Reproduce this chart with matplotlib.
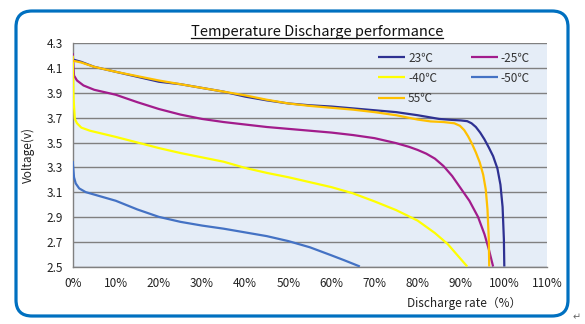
import matplotlib
matplotlib.use("Agg")
import matplotlib.pyplot as plt
from matplotlib.patches import FancyBboxPatch
from matplotlib.lines import Line2D
from matplotlib.transforms import IdentityTransform
from matplotlib.ticker import FuncFormatter

plt.rcParams['font.family'] = ['Noto Sans CJK SC', 'DejaVu Sans']

# ---------------- data ----------------
labels = ['23℃', '-25℃', '-40℃', '-50℃', '55℃']
colors = ['#2E3192', '#A21C8C', '#FFFF00', '#4472C4', '#FFC000']

x_23 = [0, 2, 5, 10, 15, 20, 25, 30, 35, 40, 45, 50, 55, 60, 65, 70, 75, 80, 85, 88, 90,
        91.5, 92.5, 93.5, 94.5, 95.5, 96.5, 97.5, 98.5, 99.2, 99.7, 100, 100.1]
v_23 = [4.17, 4.15, 4.11, 4.07, 4.03, 3.99, 3.97, 3.94, 3.91, 3.87, 3.84, 3.815, 3.80, 3.79,
        3.775, 3.76, 3.745, 3.72, 3.69, 3.682, 3.678, 3.672, 3.655, 3.625, 3.58, 3.525, 3.46,
        3.39, 3.29, 3.16, 2.98, 2.72, 2.5]

x_m25 = [0, 0.3, 1, 2.5, 5, 10, 15, 20, 25, 30, 35, 40, 45, 50, 55, 60, 65, 70, 75, 78, 80,
         82, 84, 86, 88, 90, 92, 94, 95.5, 96.5, 97.5]
v_m25 = [4.22, 4.04, 4.0, 3.96, 3.925, 3.885, 3.825, 3.77, 3.725, 3.69, 3.665, 3.645, 3.625,
         3.61, 3.595, 3.58, 3.56, 3.535, 3.495, 3.465, 3.44, 3.41, 3.37, 3.31, 3.23, 3.13, 3.03,
         2.90, 2.76, 2.64, 2.5]

x_m40 = [0, 0.2, 0.5, 1, 2, 4, 7, 10, 15, 20, 25, 30, 35, 40, 45, 50, 55, 60, 65, 70, 75, 80,
         84, 87, 89, 90.5, 91.5]
v_m40 = [4.20, 3.85, 3.69, 3.655, 3.62, 3.595, 3.57, 3.545, 3.50, 3.455, 3.415, 3.38, 3.345,
         3.295, 3.255, 3.22, 3.18, 3.14, 3.09, 3.025, 2.955, 2.87, 2.77, 2.68, 2.60, 2.54, 2.5]

x_m50 = [0, 0.3, 0.7, 1.5, 3, 5, 10, 15, 20, 25, 30, 35, 40, 45, 50, 55, 60, 63, 66.6]
v_m50 = [3.35, 3.22, 3.17, 3.13, 3.10, 3.08, 3.03, 2.96, 2.90, 2.86, 2.83, 2.805, 2.775, 2.745,
         2.705, 2.655, 2.59, 2.55, 2.5]

x_55 = [0, 2, 5, 10, 15, 20, 25, 30, 35, 40, 45, 50, 55, 60, 65, 70, 75, 80, 83, 86, 88.5,
        89.8, 90.8, 91.7, 92.6, 93.5, 94.4, 95.2, 95.8, 96.2, 96.5, 96.6]
v_55 = [4.16, 4.145, 4.11, 4.07, 4.035, 4.0, 3.97, 3.94, 3.91, 3.88, 3.845, 3.815, 3.795, 3.78,
        3.765, 3.745, 3.72, 3.685, 3.67, 3.665, 3.655, 3.635, 3.60, 3.55, 3.49, 3.42, 3.34,
        3.24, 3.12, 2.96, 2.72, 2.5]

x_ticks = list(range(0, 111, 10))
y_ticks = [2.5, 2.7, 2.9, 3.1, 3.3, 3.5, 3.7, 3.9, 4.1, 4.3]
title = 'Temperature Discharge performance'
xlabel = 'Discharge rate（%）'
ylabel = 'Voltage(v)'

series = [(x_23, v_23), (x_m25, v_m25), (x_m40, v_m40), (x_m50, v_m50), (x_55, v_55)]

# ---------------- figure ----------------
W, H = 585, 324
fig = plt.figure(figsize=(W / 100, H / 100), dpi=100)
fig.patch.set_facecolor('white')

ax = fig.add_axes([72.7 / W, 1 - 266.5 / H, (547 - 72.7) / W, (266.5 - 43.3) / H])
ax.set_facecolor('#E5EDF7')

handles = {}
for (xs, vs), lab, col in zip(series, labels, colors):
    ln, = ax.plot(xs, vs, color=col, lw=1.6, solid_capstyle='butt',
                  solid_joinstyle='round', zorder=3)
    handles[lab] = ln

ax.set_xlim(0, 110)
ax.set_ylim(2.5, 4.3)
ax.set_xticks(x_ticks)
ax.set_yticks(y_ticks)
ax.xaxis.set_major_formatter(FuncFormatter(lambda v, p: f'{int(round(v))}%'))
ax.yaxis.set_major_formatter(FuncFormatter(lambda v, p: f'{v:.1f}'))
ax.tick_params(axis='both', length=0, labelsize=8.5, colors='#222222')
ax.tick_params(axis='y', pad=7)
ax.tick_params(axis='x', pad=7.5)
ax.grid(axis='y', color='#808080', lw=1.0)
ax.set_axisbelow(True)
for s in ['top', 'right']:
    ax.spines[s].set_visible(False)
for s in ['left', 'bottom']:
    ax.spines[s].set_color('#808080')
    ax.spines[s].set_linewidth(1.0)

# legend
order = ['23℃', '-40℃', '55℃', '-25℃', '-50℃']
leg = ax.legend([handles[k] for k in order], order, ncol=2, loc='upper left',
                bbox_to_anchor=(378 / W, 1 - 51.5 / H), bbox_transform=fig.transFigure,
                frameon=False, fontsize=8.5, handlelength=2.3, handletextpad=0.25,
                columnspacing=2.85, labelspacing=0.6, borderpad=0, borderaxespad=0)
for t in leg.get_texts():
    t.set_color('#333333')

# labels
fig.text(28 / W, 1 - 155 / H, ylabel, rotation=90, ha='center', va='center',
         fontsize=8.5, color='#222222')
fig.text(464 / W, 1 - 303 / H, xlabel, ha='center', va='center', fontsize=8.5,
         color='#222222')
tt = fig.text(317 / W, 1 - 32 / H, title, ha='center', va='center', fontsize=10.5,
              color='#111111')

# rounded border
border = FancyBboxPatch((16, H - 316), 552, 305, boxstyle='round,pad=0,rounding_size=16',
                        transform=IdentityTransform(), fill=False, edgecolor='#0070C0',
                        linewidth=2.3, zorder=10)
fig.patches.append(border)
fig.text(577 / W, 1 - 317 / H, '↵', ha='center', va='center', fontsize=7,
         color='#666666', family='DejaVu Sans')

# underline title
fig.canvas.draw()
bb = tt.get_window_extent(fig.canvas.get_renderer())
fig.lines.append(Line2D([bb.x0, bb.x1], [bb.y0 + 1.5, bb.y0 + 1.5], transform=IdentityTransform(),
                        color='#111111', lw=0.9))

fig.savefig('out.png', dpi=100)
